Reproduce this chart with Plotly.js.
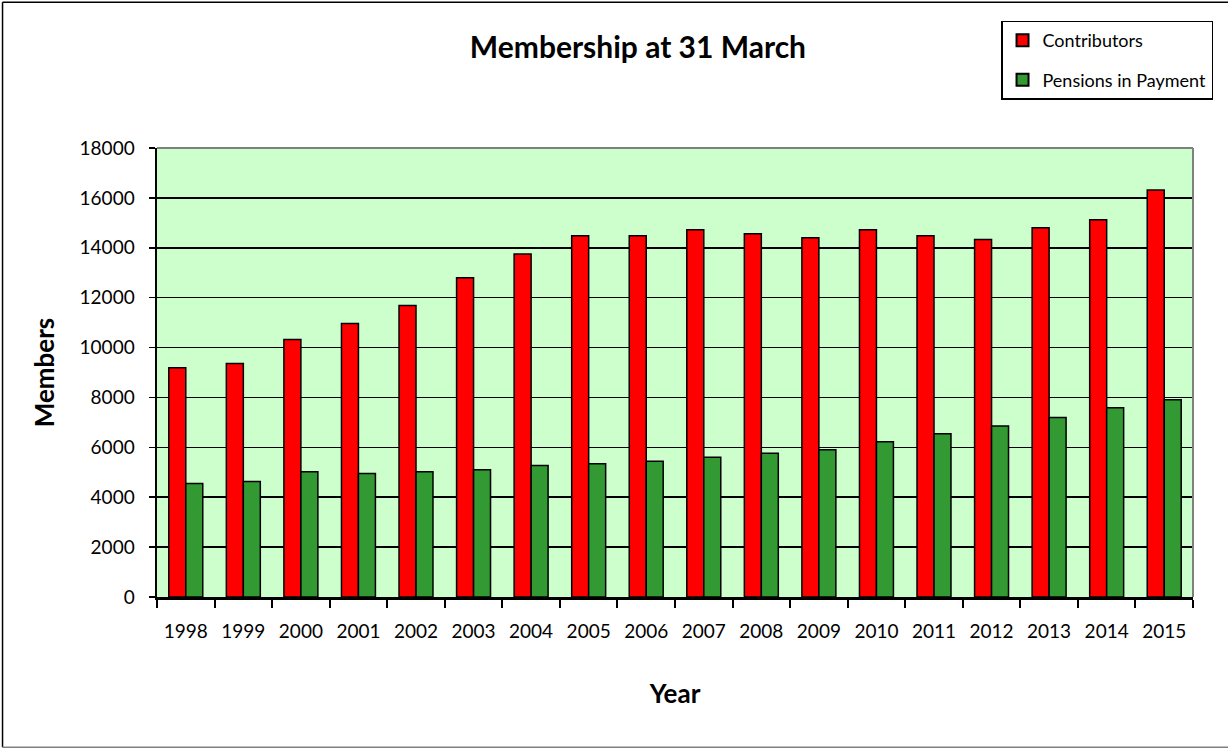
<!DOCTYPE html>
<html>
<head>
<meta charset="utf-8">
<script src="https://cdn.plot.ly/plotly-3.0.1.min.js"></script>
<style>
  html, body { margin: 0; padding: 0; background: #ffffff; }
  #chart { width: 1228px; height: 749px; }
</style>
</head>
<body>
<div id="chart"></div>
<script>
const years = ["1998","1999","2000","2001","2002","2003","2004","2005","2006","2007","2008","2009","2010","2011","2012","2013","2014","2015"];
const contributors = [9190, 9360, 10320, 10960, 11690, 12800, 13750, 14480, 14480, 14720, 14560, 14400, 14720, 14480, 14330, 14800, 15120, 16320];
const pensions = [4550, 4630, 5020, 4950, 5020, 5100, 5270, 5340, 5440, 5600, 5760, 5900, 6220, 6540, 6860, 7200, 7590, 7910];
const yTicks = [0, 2000, 4000, 6000, 8000, 10000, 12000, 14000, 16000, 18000];

const FONT = "Lato, 'Open Sans', 'DejaVu Sans', sans-serif";

const traces = [
  {
    type: "bar", name: "Contributors", x: years, y: contributors,
    marker: { color: "#FF0000", line: { color: "#000000", width: 1.5 } },
    legendgroup: "a", hoverinfo: "x+y"
  },
  {
    type: "bar", name: "Pensions in Payment", x: years, y: pensions,
    marker: { color: "#339933", line: { color: "#000000", width: 1.5 } },
    legendgroup: "b", hoverinfo: "x+y"
  }
];

const layout = {
  width: 1228, height: 749,
  margin: { l: 157, r: 35, t: 147.5, b: 152, pad: 0 },
  paper_bgcolor: "#ffffff",
  plot_bgcolor: "#CCFFCC",
  font: { family: FONT, size: 18, color: "#000000" },
  barmode: "group",
  bargap: 0.41,
  bargroupgap: 0,
  title: {
    text: "<b>Membership at 31 March</b>",
    font: { family: FONT, size: 30, color: "#000000" },
    x: 0.5195, xref: "container", xanchor: "center",
    y: 0.936, yref: "container", yanchor: "middle"
  },
  xaxis: {
    type: "category",
    tickson: "boundaries",
    ticks: "outside", ticklen: 8, tickwidth: 2, tickcolor: "#000000",
    showline: true, linecolor: "#000000", linewidth: 2.5,
    showgrid: false, zeroline: false,
    tickfont: { family: FONT, size: 19, color: "#000000" },
    ticklabelstandoff: 16,
    title: { text: "<b>Year</b>", font: { family: FONT, size: 26, color: "#000000" }, standoff: 44 }
  },
  yaxis: {
    range: [0, 18000],
    tickvals: yTicks,
    ticktext: yTicks.map(String),
    ticks: "outside", ticklen: 6, tickwidth: 1.5, tickcolor: "#000000",
    showline: true, linecolor: "#000000", linewidth: 2.5,
    showgrid: true, gridcolor: "#000000", gridwidth: 1.5,
    zeroline: false,
    tickfont: { family: FONT, size: 19, color: "#000000" },
    ticklabelstandoff: 10,
    title: { text: "<b>Members</b>", font: { family: FONT, size: 26, color: "#000000" }, standoff: 18 }
  },
  showlegend: true,
  legend: {
    x: 0.8147, xanchor: "left",
    y: 1.2836, yanchor: "top",
    bgcolor: "#ffffff",
    bordercolor: "#000000", borderwidth: 1.5,
    font: { family: FONT, size: 18, color: "#000000" },
    traceorder: "grouped",
    tracegroupgap: 13,
    itemsizing: "constant"
  },
  shapes: [
    { type: "line", xref: "paper", yref: "paper", x0: 0, x1: 1, y0: 1, y1: 1, line: { color: "#808080", width: 2 } },
    { type: "line", xref: "paper", yref: "paper", x0: 1, x1: 1, y0: 0, y1: 1, line: { color: "#808080", width: 2 } },
    { type: "line", xref: "paper", yref: "paper", x0: -0.1491, x1: 1.04, y0: 1.3248, y1: 1.3248, line: { color: "#000000", width: 1.5 } },
    { type: "line", xref: "paper", yref: "paper", x0: -0.1491, x1: -0.1491, y0: -0.3348, y1: 1.3248, line: { color: "#000000", width: 1.5 } },
    { type: "line", xref: "paper", yref: "paper", x0: -0.1491, x1: 1.04, y0: -0.3348, y1: -0.3348, line: { color: "#808080", width: 1.5 } }
  ]
};

Plotly.newPlot("chart", traces, layout, { displayModeBar: false, staticPlot: true });
</script>
</body>
</html>
